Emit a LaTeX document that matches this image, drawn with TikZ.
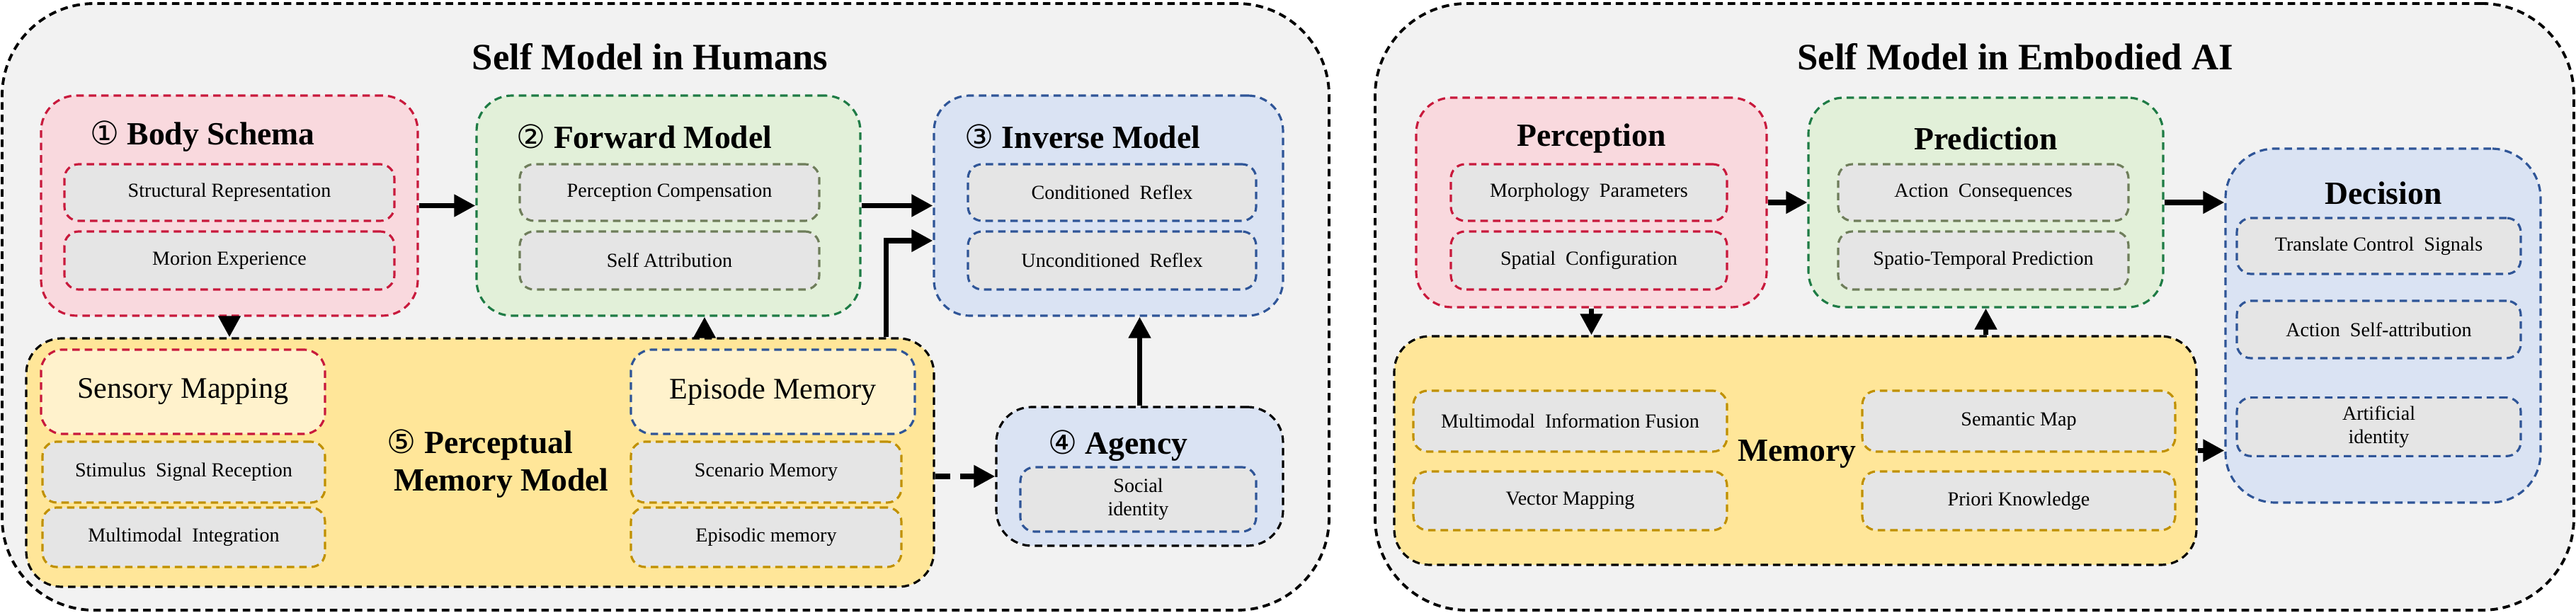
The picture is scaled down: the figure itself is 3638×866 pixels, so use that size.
\documentclass[tikz,border=0pt]{standalone}
\usepackage{fontspec}
\setmainfont{Liberation Serif}
\newfontfamily\circfont{DejaVu Sans}
\usetikzlibrary{positioning, arrows.meta}
\definecolor{outerfill}{HTML}{F2F2F2}
\definecolor{pinkfill}{HTML}{F9D9DE}
\definecolor{pinkline}{HTML}{C8193C}
\definecolor{greenfill}{HTML}{E2F0D9}
\definecolor{greenline}{HTML}{1E7B45}
\definecolor{olive}{HTML}{6E7D5A}
\definecolor{bluefill}{HTML}{DAE3F3}
\definecolor{blueline}{HTML}{2F5597}
\definecolor{yellowfill}{HTML}{FFE699}
\definecolor{goldline}{HTML}{C09000}
\definecolor{lightyellow}{HTML}{FFF2CC}
\definecolor{subfill}{HTML}{E5E5E5}
\begin{document}
\begin{tikzpicture}[x=0.1mm, y=-0.1mm,
      dashbox/.style = {rectangle, dashed, dash pattern=on 3pt off 2pt, line width=0.9pt},
        outer/.style = {dashbox, draw=black, fill=outerfill, rounded corners=13mm, line width=1.1pt},
        group/.style = {dashbox, draw=#1, rounded corners=5mm},
          sub/.style = {dashbox, draw=#1, fill=subfill, rounded corners=2mm,
                        font=\fontsize{8}{9.5}\selectfont, align=center},
        title/.style = {font=\fontsize{15}{18}\selectfont\bfseries},
         head/.style = {font=\fontsize{13}{15}\selectfont\bfseries},
          arr/.style = {-{Triangle[length=3mm,width=3mm]}, line width=2.2pt}
                        ]
\useasboundingbox (0,0) rectangle (3638,866);
% outer frames
\node (human) [outer, minimum width=187.4mm, minimum height=85.7mm] at (940,433.5) {};
\node (robot) [outer, minimum width=169.3mm, minimum height=85.7mm] at (2788.5,433.5) {};
\node (htitle) [title] at (918,80) {Self Model in Humans};
\node (rtitle) [title] at (2846,80) {Self Model in Embodied AI};
% self model in humans
\node (body) [group=pinkline, fill=pinkfill, minimum width=53.2mm, minimum height=31.1mm] at (324,290.5) {};
\node (bodyT) [head] at (286,193) {{\circfont\mdseries ①}\ Body Schema};
\node (body1) [sub=pinkline, minimum width=46.6mm, minimum height=8mm] at (324,272) {Structural Representation};
\node (body2) [sub=pinkline, minimum width=46.6mm, minimum height=8.2mm] at (324,368) {Morion Experience};
\node (fwd) [group=greenline, fill=greenfill, minimum width=54.2mm, minimum height=31.1mm] at (944,290.5) {};
\node (fwdT) [head] at (910,193) {{\circfont\mdseries ②}\ Forward Model};
\node (fwd1) [sub=olive, minimum width=42.3mm, minimum height=8mm] at (945.5,272) {Perception Compensation};
\node (fwd2) [sub=olive, minimum width=42.3mm, minimum height=8.2mm] at (945.5,368) {Self Attribution};
\node (inv) [group=blueline, fill=bluefill, minimum width=49.3mm, minimum height=31.1mm] at (1565.5,290.5) {};
\node (invT) [head] at (1529,193) {{\circfont\mdseries ③}\ Inverse Model};
\node (inv1) [sub=blueline, minimum width=40.7mm, minimum height=8mm] at (1570.5,272) {Conditioned\ \ Reflex};
\node (inv2) [sub=blueline, minimum width=40.7mm, minimum height=8.2mm] at (1570.5,368) {Unconditioned\ \ Reflex};
\node (pmm) [group=black, fill=yellowfill, minimum width=128.2mm, minimum height=35.1mm] at (678,653.5) {};
\node (pmmT) [head, align=center] at (678,655) {{\circfont\mdseries ⑤}\ Perceptual\\\hspace*{6mm}Memory Model};
\node (sens) [group=pinkline, fill=lightyellow, rounded corners=3mm, minimum width=40.1mm, minimum height=11.9mm,
              font=\fontsize{12}{14}\selectfont] at (258.5,553.5) {Sensory Mapping};
\node (sens1) [sub=goldline, minimum width=39.9mm, minimum height=8.6mm] at (259.5,667) {Stimulus\ \ Signal\ Reception};
\node (sens2) [sub=goldline, minimum width=39.9mm, minimum height=8.4mm] at (259.5,759) {Multimodal\ \ Integration};
\node (epi) [group=blueline, fill=lightyellow, rounded corners=3mm, minimum width=40.1mm, minimum height=11.9mm,
             font=\fontsize{12}{14}\selectfont] at (1091.5,553.5) {Episode Memory};
\node (epi1) [sub=goldline, minimum width=38.2mm, minimum height=8.6mm] at (1082,667) {Scenario Memory};
\node (epi2) [sub=goldline, minimum width=38.2mm, minimum height=8.4mm] at (1082,759) {Episodic memory};
\node (agy) [group=black, fill=bluefill, minimum width=40.5mm, minimum height=19.6mm] at (1609.5,673) {};
\node (agyT) [head] at (1579,630) {{\circfont\mdseries ④}\ Agency};
\node (agy1) [sub=blueline, minimum width=33.3mm, minimum height=9.1mm] at (1607.5,705.5) {Social\\identity};
% self model in embodied AI
\node (perc) [group=pinkline, fill=pinkfill, minimum width=49.5mm, minimum height=29.6mm] at (2247.5,286) {};
\node (percT) [head] at (2247.5,196) {Perception};
\node (perc1) [sub=pinkline, minimum width=39mm, minimum height=8mm] at (2244,272) {Morphology\ \ Parameters};
\node (perc2) [sub=pinkline, minimum width=39mm, minimum height=8.2mm] at (2244,368) {Spatial\ \ Configuration};
\node (pred) [group=greenline, fill=greenfill, minimum width=50.1mm, minimum height=29.6mm] at (2804.5,286) {};
\node (predT) [head] at (2804.5,196) {Prediction};
\node (pred1) [sub=olive, minimum width=41mm, minimum height=8mm] at (2801,272) {Action\ \ Consequences};
\node (pred2) [sub=olive, minimum width=41mm, minimum height=8.2mm] at (2801,368) {Spatio-Temporal Prediction};
\node (dec) [group=blueline, fill=bluefill, rounded corners=7mm, minimum width=44.5mm, minimum height=50mm] at (3365.5,460) {};
\node (decT) [head] at (3366,273) {Decision};
\node (dec1) [sub=blueline, minimum width=40.1mm, minimum height=7.9mm] at (3359.5,347.5) {Translate Control\ \ Signals};
\node (dec2) [sub=blueline, minimum width=40.1mm, minimum height=8.1mm] at (3359.5,465.5) {Action\ \ Self-attribution};
\node (dec3) [sub=blueline, minimum width=40.1mm, minimum height=8.2mm] at (3359.5,603) {Artificial\\identity};
\node (mem) [group=black, fill=yellowfill, minimum width=113.3mm, minimum height=32.3mm] at (2535.5,636.5) {};
\node (memT) [head] at (2538,641) {Memory};
\node (mem1) [sub=goldline, minimum width=44.3mm, minimum height=8.6mm] at (2217.5,595) {Multimodal\ \ Information Fusion};
\node (mem2) [sub=goldline, minimum width=44.3mm, minimum height=8.3mm] at (2217.5,707.5) {Vector Mapping};
\node (mem3) [sub=goldline, minimum width=44.2mm, minimum height=8.6mm] at (2851,595) {Semantic Map};
\node (mem4) [sub=goldline, minimum width=44.2mm, minimum height=8.3mm] at (2851,707.5) {Priori Knowledge};
% connectors
\draw[arr] (body.east) -- (fwd.west);
\draw[arr] (fwd.east) -- (inv.west);
\draw[arr] (body.south) -- (body.south |- pmm.north);
\draw[arr] ([xshift=5.1mm]pmm.north -| fwd.south) -- ([xshift=5.1mm]fwd.south);
\draw[arr] ([xshift=-6.9mm]pmm.north east) |- ([yshift=-4.95mm]inv.west);
\draw[arr] (agy.north) -- (agy.north |- inv.south);
\draw[arr, dash pattern=on 6pt off 4pt] (pmm.east |- agy.west) -- (agy.west);
\draw[arr] (perc.east) -- (pred.west);
\draw[arr] (pred.east) -- (pred.east -| dec.west);
\draw[arr] (perc.south) -- (perc.south |- mem.north);
\draw[arr] (pred.south |- mem.north) -- (pred.south);
\draw[arr] (mem.east) -- (mem.east -| dec.west);
\end{tikzpicture}
\end{document}
